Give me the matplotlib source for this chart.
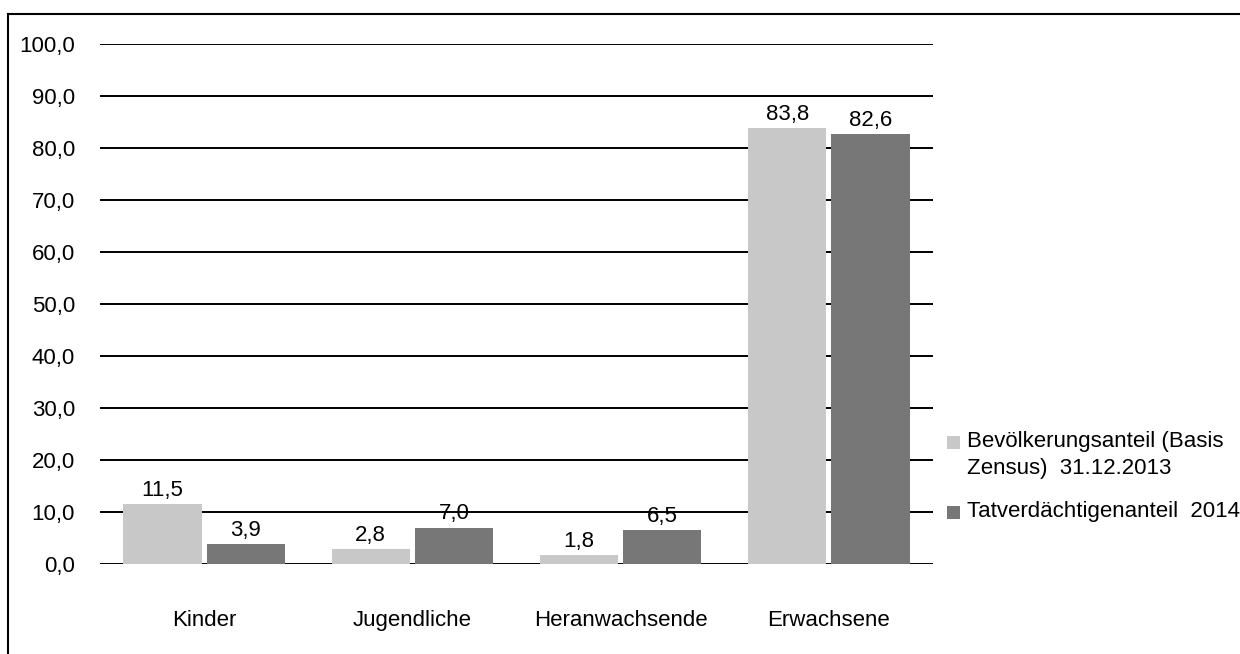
import numpy as np
import matplotlib.pyplot as plt
from matplotlib.lines import Line2D
from matplotlib.patches import Rectangle

plt.rcParams['font.family'] = ['Liberation Sans', 'DejaVu Sans']

categories = ['Kinder', 'Jugendliche', 'Heranwachsende', 'Erwachsene']
bevoelkerung = [11.5, 2.8, 1.8, 83.8]
tatverdaechtige = [3.9, 7.0, 6.5, 82.6]
series_names = ['Bevölkerungsanteil (Basis\nZensus)  31.12.2013',
                'Tatverdächtigenanteil  2014']
yticks = np.arange(0, 101, 10)

light = '#c8c8c8'
dark = '#777777'
fs = 16

W, H = 1240, 654
fig = plt.figure(figsize=(W / 100, H / 100), dpi=100)
ax = fig.add_axes([100 / W, 90 / H, 833 / W, 520 / H])

x = np.arange(len(categories))
w = 0.375
b1 = ax.bar(x - 0.2, bevoelkerung, w, color=light)
b2 = ax.bar(x + 0.2, tatverdaechtige, w, color=dark)

for bars, vals in ((b1, bevoelkerung), (b2, tatverdaechtige)):
    for rect, v in zip(bars, vals):
        ax.text(rect.get_x() + rect.get_width() / 2, v + 0.6,
                f'{v:.1f}'.replace('.', ','), ha='center', va='bottom',
                fontsize=fs)

ax.set_xlim(-0.5, len(categories) - 0.5)
ax.set_ylim(0, 100)
ax.set_yticks(yticks)
ax.set_yticklabels([f'{v:.1f}'.replace('.', ',') for v in yticks], fontsize=fs)
ax.set_xticks(x)
ax.set_xticklabels(categories, fontsize=fs)
ax.tick_params(axis='y', length=0, pad=18)
ax.tick_params(axis='x', length=0, pad=33)
ax.yaxis.grid(True, color='black', linewidth=1.4)
ax.set_axisbelow(True)
for s in ax.spines.values():
    s.set_visible(False)

# legend drawn by hand so the marker sits next to the first text line
legend_rows = [(442, light), (512, dark)]
for (yc, col), name in zip(legend_rows, series_names):
    fig.add_artist(Rectangle((947 / W, 1 - (yc + 6.5) / H), 13 / W, 13 / H,
                             facecolor=col, edgecolor='none',
                             transform=fig.transFigure))
    fig.text(967 / W, 1 - (yc - 11) / H, name, fontsize=fs, ha='left', va='top',
             linespacing=1.35)

# outer frame (left and top edges visible)
fig.add_artist(Line2D([8 / W, 8 / W], [0, 1 - 14 / H], color='black', linewidth=1.5))
fig.add_artist(Line2D([8 / W, 1], [1 - 14 / H, 1 - 14 / H], color='black', linewidth=1.5))

fig.savefig('out.png', dpi=100)
